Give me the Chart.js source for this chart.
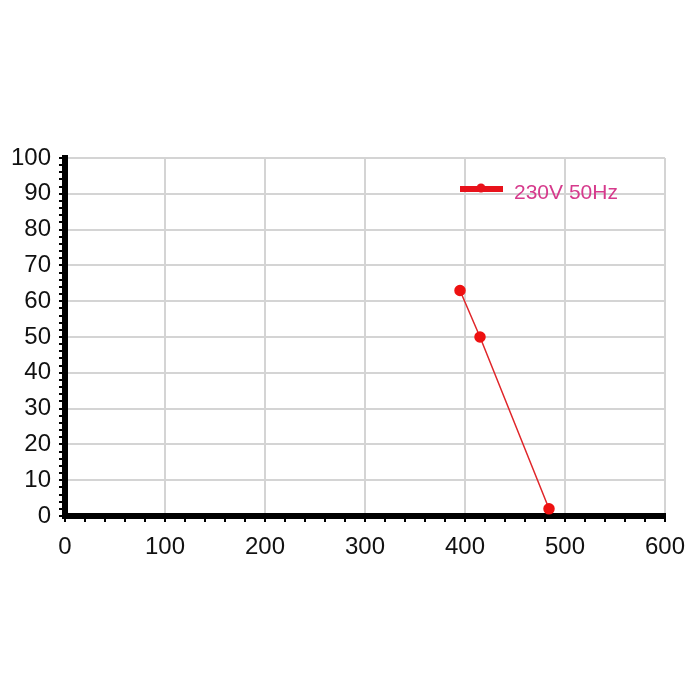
<!DOCTYPE html>
<html><head><meta charset="utf-8">
<script src="https://cdn.jsdelivr.net/npm/chart.js@4"></script>
<style>html,body{margin:0;padding:0;background:#fff}canvas{display:block}</style>
</head><body>
<canvas id="c" width="700" height="700"></canvas>
<script>
const seriesLabel = '230V 50Hz';
const xValues = [395, 415, 484];
const yValues = [63, 50, 2];
const xTickLabels = [0, 100, 200, 300, 400, 500, 600];
const yTickLabels = [0, 10, 20, 30, 40, 50, 60, 70, 80, 90, 100];

const points = xValues.map((x, i) => ({x: x, y: yValues[i]}));

const legendPlugin = {
  id: 'inlineLegend',
  afterDatasetsDraw(chart) {
    const ctx = chart.ctx, a = chart.chartArea;
    const ds = chart.data.datasets[0];
    const x0 = a.right - 205, y0 = a.top + 31;
    ctx.save();
    ctx.strokeStyle = '#e8121b';
    ctx.lineWidth = 6;
    ctx.beginPath(); ctx.moveTo(x0, y0); ctx.lineTo(x0 + 43, y0); ctx.stroke();
    ctx.fillStyle = '#e8121b';
    ctx.beginPath(); ctx.arc(x0 + 21, y0 - 1, 4.5, 0, Math.PI * 2); ctx.fill();
    ctx.fillStyle = '#d63a8c';
    ctx.font = '21px "Liberation Sans", Arial, sans-serif';
    ctx.textBaseline = 'middle';
    ctx.fillText(ds.label, x0 + 54, y0 + 4);
    ctx.restore();
  }
};

new Chart(document.getElementById('c'), {
  type: 'scatter',
  data: {
    datasets: [{
      label: seriesLabel,
      data: points,
      showLine: true,
      borderColor: '#e0262a',
      borderWidth: 1.5,
      backgroundColor: '#ee1111',
      pointBackgroundColor: '#ee1111',
      pointBorderColor: '#ee1111',
      pointRadius: 5,
      pointHoverRadius: 5
    }]
  },
  plugins: [legendPlugin],
  options: {
    responsive: false,
    animation: false,
    layout: {padding: {top: 158, right: 35, bottom: 122, left: 0}},
    plugins: {legend: {display: false}, tooltip: {enabled: false}},
    scales: {
      x: {
        type: 'linear', min: 0, max: 600,
        afterFit(s) { s.height = 62; },
        border: {display: true, color: '#000', width: 6},
        grid: {
          color: c => (c.tick && xTickLabels.includes(c.tick.value)) ? '#d4d4d4' : 'rgba(0,0,0,0)',
          lineWidth: 2,
          tickColor: '#000',
          tickLength: 6,
          tickWidth: 2
        },
        ticks: {
          stepSize: 20, autoSkip: false, maxRotation: 0,
          padding: 11,
          color: '#111',
          font: {family: '"Liberation Sans", Arial, sans-serif', size: 24},
          callback: v => xTickLabels.includes(v) ? String(v) : ''
        }
      },
      y: {
        type: 'linear', min: 0, max: 100,
        afterFit(s) { s.width = 65; },
        border: {display: true, color: '#000', width: 6},
        grid: {
          color: c => (c.tick && yTickLabels.includes(c.tick.value)) ? '#d4d4d4' : 'rgba(0,0,0,0)',
          lineWidth: 2,
          tickColor: '#000',
          tickLength: 6,
          tickWidth: 2
        },
        ticks: {
          stepSize: 2, autoSkip: false,
          padding: 8,
          color: '#111',
          font: {family: '"Liberation Sans", Arial, sans-serif', size: 24},
          callback: v => yTickLabels.includes(v) ? String(v) : ''
        }
      }
    }
  }
});
</script>
</body></html>
